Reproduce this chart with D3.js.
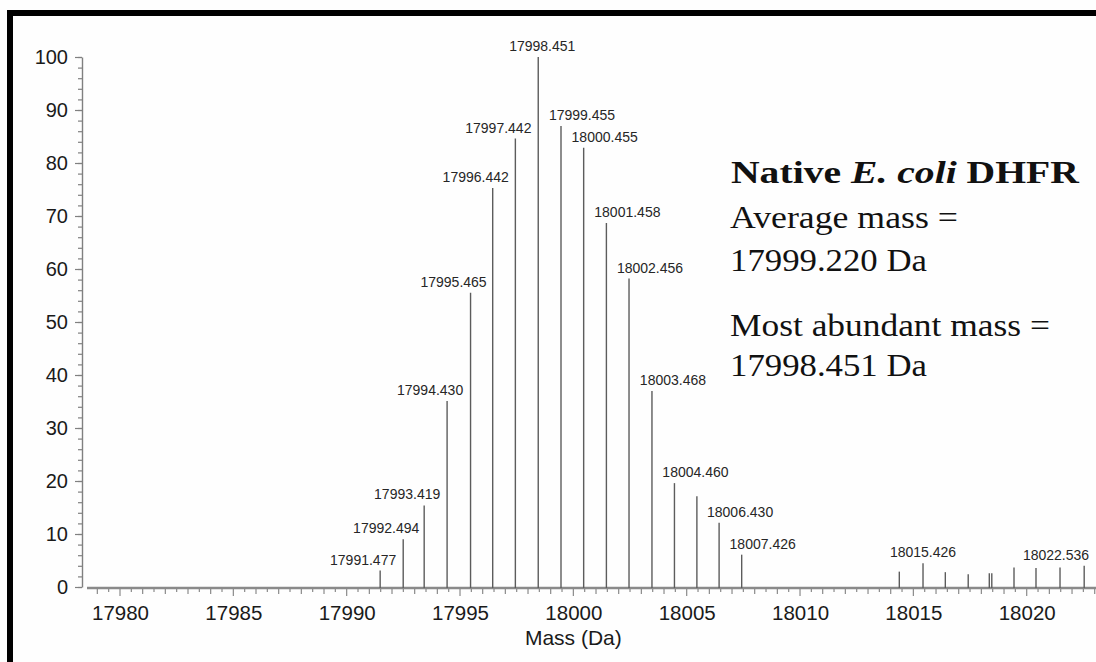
<!DOCTYPE html>
<html>
<head>
<meta charset="utf-8">
<script src="https://cdn.jsdelivr.net/npm/d3@7"></script>
<style>
  html, body { margin: 0; padding: 0; background: #fff; }
  svg { display: block; }
</style>
</head>
<body>
<svg id="chart" width="1096" height="662"></svg>
<script>
// Deconvoluted isotope peaks: mass (Da) and relative abundance (%)
const masses = [
  17991.477, 17992.494, 17993.419, 17994.430, 17995.465, 17996.442,
  17997.442, 17998.451, 17999.455, 18000.455, 18001.458, 18002.456,
  18003.468, 18004.460, 18005.450, 18006.430, 18007.426,
  18014.380, 18015.426, 18016.410, 18017.420, 18018.350, 18018.460,
  18019.440, 18020.410, 18021.470, 18022.536
];
const intensities = [
  3.1, 9.0, 15.4, 35.1, 55.5, 75.3,
  84.6, 100, 87.0, 82.9, 68.7, 58.2,
  37.0, 19.6, 17.1, 12.1, 6.1,
  2.9, 4.5, 2.8, 2.4, 2.6, 2.6,
  3.7, 3.6, 3.7, 4.0
];
// Peaks that carry a mass label
const labeledMasses = [
  17991.477, 17992.494, 17993.419, 17994.430, 17995.465, 17996.442,
  17997.442, 17998.451, 17999.455, 18000.455, 18001.458, 18002.456,
  18003.468, 18004.460, 18006.430, 18007.426, 18015.426, 18022.536
];
const xTickValues = [17980, 17985, 17990, 17995, 18000, 18005, 18010, 18015, 18020];
const yTickValues = [0, 10, 20, 30, 40, 50, 60, 70, 80, 90, 100];
const xAxisTitle = "Mass (Da)";
const annotation = {
  title: ["Native ", "E. coli", " DHFR"],
  lines: ["Average mass =", "17999.220 Da", "Most abundant mass =", "17998.451 Da"]
};

const svg = d3.select("#chart");
const W = 1096, H = 662;

svg.append("rect").attr("width", W).attr("height", H).attr("fill", "#fefefe");

const x = d3.scaleLinear().domain([17980, 18020]).range([120, 1026.7]);
const y = d3.scaleLinear().domain([0, 100]).range([587, 57]);
const baseY = 588;

// thick frame on the top and left
svg.append("path")
  .attr("d", `M10,${H} V13 H${W}`)
  .attr("fill", "none").attr("stroke", "#000").attr("stroke-width", 6);

// ---- y axis ----
const yAxisG = svg.append("g").attr("transform", "translate(82,0)");
yAxisG.call(d3.axisLeft(y).tickValues(d3.range(0, 101, 2)).tickSize(4).tickSizeOuter(0).tickFormat(""));
yAxisG.selectAll("text").remove();
const yMajor = svg.append("g").attr("transform", "translate(82,0)")
  .call(d3.axisLeft(y).tickValues(yTickValues).tickSize(7).tickPadding(7).tickSizeOuter(0));
yMajor.select(".domain").remove();
svg.selectAll("g .domain").attr("stroke", "#808080").attr("stroke-width", 1.4);
svg.selectAll("g .tick line").attr("stroke", "#808080").attr("stroke-width", 1.2);
yMajor.selectAll("text")
  .attr("font-family", "Liberation Sans, Arial, sans-serif")
  .attr("font-size", 20).attr("fill", "#1a1a1a");

// ---- x axis ----
const xLo = x.invert(87), xHi = x.invert(W);
svg.append("line")
  .attr("x1", 87).attr("x2", W).attr("y1", baseY).attr("y2", baseY)
  .attr("stroke", "#8a8a8a").attr("stroke-width", 2.6);
const minorVals = d3.range(Math.ceil(xLo * 2) / 2, xHi, 0.5);
svg.append("g").selectAll("line").data(minorVals).join("line")
  .attr("x1", d => x(d)).attr("x2", d => x(d))
  .attr("y1", baseY)
  .attr("y2", d => baseY + (d % 5 === 0 ? 8 : (d % 1 === 0 ? 6 : 4)))
  .attr("stroke", "#8a8a8a").attr("stroke-width", 1.2);

const xLabels = svg.append("g").attr("transform", `translate(0,${baseY})`)
  .call(d3.axisBottom(x).tickValues(xTickValues).tickSize(0).tickPadding(17.5).tickFormat(d3.format("d")));
xLabels.select(".domain").remove();
xLabels.selectAll("text")
  .attr("font-family", "Liberation Sans, Arial, sans-serif")
  .attr("font-size", 20.5).attr("fill", "#1a1a1a");

svg.append("text")
  .attr("x", x(18000)).attr("y", 645)
  .attr("text-anchor", "middle")
  .attr("font-family", "Liberation Sans, Arial, sans-serif")
  .attr("font-size", 21).attr("fill", "#1a1a1a")
  .text(xAxisTitle);

// ---- peaks ----
const peaks = masses.map((m, i) => ({ m, v: intensities[i] }));
svg.append("g").selectAll("line").data(peaks).join("line")
  .attr("x1", d => x(d.m)).attr("x2", d => x(d.m))
  .attr("y1", baseY).attr("y2", d => y(d.v))
  .attr("stroke", "#5c5c5c").attr("stroke-width", 1.4);

// mass labels: shifted away from the apex so neighbouring labels do not collide
const apex = peaks.reduce((a, b) => (b.v > a.v ? b : a)).m;
function labelShift(m) {
  if (m > 18010) return Math.min(0, 1090 - (x(m) + 34));
  if (m < apex) return -17;
  if (m > apex) return 21;
  return 4;
}
svg.append("g").selectAll("text")
  .data(peaks.filter(d => labeledMasses.includes(d.m)))
  .join("text")
  .attr("x", d => x(d.m) + labelShift(d.m))
  .attr("y", d => y(d.v) - 6)
  .attr("text-anchor", "middle")
  .attr("font-family", "Liberation Sans, Arial, sans-serif")
  .attr("font-size", 14).attr("fill", "#262626")
  .text(d => d3.format(".3f")(d.m));

// ---- annotation block ----
function fitWidth(sel, left, width) {
  const len = sel.node().getComputedTextLength();
  sel.attr("transform", `translate(${left},0) scale(${width / len},1)`);
}
const title = svg.append("text")
  .attr("x", 0).attr("y", 183)
  .attr("font-family", "Liberation Serif, Times New Roman, serif")
  .attr("font-size", 32).attr("font-weight", "bold").attr("fill", "#111");
title.append("tspan").text(annotation.title[0]);
title.append("tspan").attr("font-style", "italic").text(annotation.title[1]);
title.append("tspan").text(annotation.title[2]);
fitWidth(title, 731, 348);

const lineY = [228, 271.5, 336.5, 376.5];
const lineW = [228, 197, 320, 197];
annotation.lines.forEach((t, i) => {
  const el = svg.append("text")
    .attr("x", 0).attr("y", lineY[i])
    .attr("font-family", "Liberation Serif, Times New Roman, serif")
    .attr("font-size", 31).attr("fill", "#111")
    .text(t);
  fitWidth(el, 730, lineW[i]);
});
</script>
</body>
</html>
